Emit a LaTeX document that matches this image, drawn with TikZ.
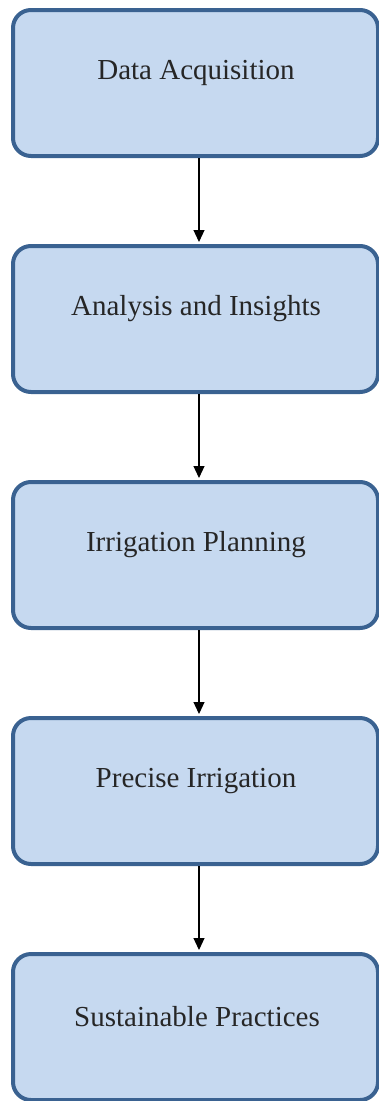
\documentclass[tikz,border=0pt]{standalone}
\usepackage{fontspec}
\setmainfont{Liberation Serif}
\usetikzlibrary{arrows.meta}
\definecolor{boxfill}{HTML}{C6D9F0}
\definecolor{boxline}{HTML}{3A6291}
\tikzset{
  stagebox/.style={draw=boxline, fill=boxfill, line width=4pt, rounded corners=18pt,
    minimum width=365pt, minimum height=146pt, inner sep=0pt},
  stagetext/.style={font=\fontsize{29}{34}\selectfont, text=black!85, inner sep=0pt},
  flow/.style={draw=black, line width=1.2pt, -{Triangle[length=12pt,width=11pt]}}
}
\begin{document}
\begin{tikzpicture}[x=1pt,y=-1pt]
\useasboundingbox (0,0) rectangle (379,1101);
% stage boxes, top to bottom
\node[stagebox] (b1) at (195.5,83) {};
\node[stagebox] (b2) at (195.5,319) {};
\node[stagebox] (b3) at (195.5,555) {};
\node[stagebox] (b4) at (195.5,791) {};
\node[stagebox] (b5) at (195.5,1027) {};
% stage titles, set a little above each box's middle
\node[stagetext] (t1) at (196,73) {Data Acquisition};
\node[stagetext] (t2) at (196,309) {Analysis and Insights};
\node[stagetext] (t3) at (196,545) {Irrigation Planning};
\node[stagetext] (t4) at (196,781) {Precise Irrigation};
\node[stagetext] (t5) at (197,1017) {Sustainable Practices};
% arrows between the stages
\foreach \a/\b in {b1/b2,b2/b3,b3/b4,b4/b5}
  \draw[flow] ([xshift=3.5pt]\a.south) -- ([xshift=3.5pt,yshift=2pt]\b.north);
\end{tikzpicture}
\end{document}
